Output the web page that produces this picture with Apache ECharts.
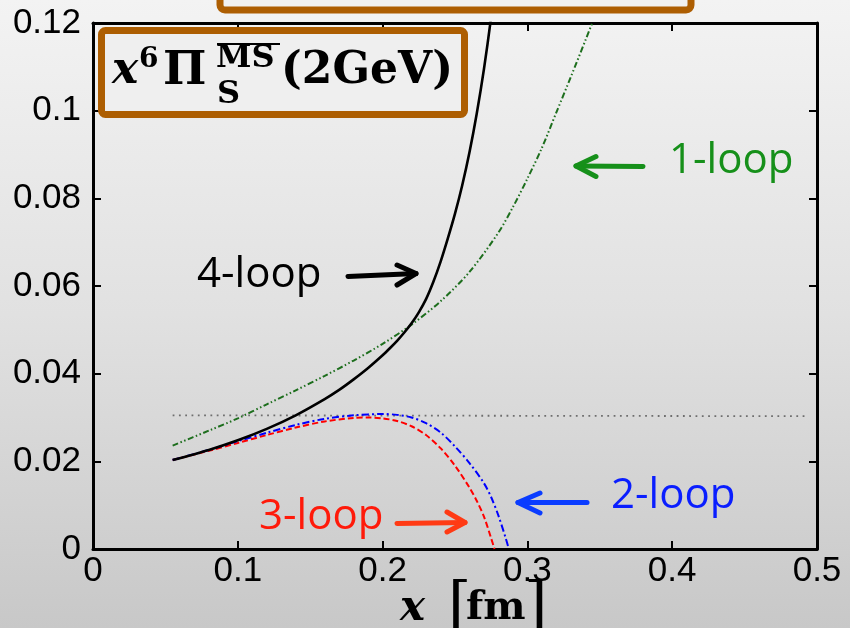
<!DOCTYPE html>
<html>
<head>
<meta charset="utf-8">
<script src="https://cdn.jsdelivr.net/npm/echarts@6/dist/echarts.min.js"></script>
<style>
  html, body { margin: 0; padding: 0; }
  #chart { width: 850px; height: 628px; }
</style>
</head>
<body>
<div id="chart"></div>
<script>
// Axis ranges and tick spacing
const xRange = [0, 0.5];
const xStep = 0.1;
const yRange = [0, 0.12];
const yStep = 0.02;

// Curves: x [fm] and x^6 Pi_S (2 GeV) at each loop order
const x4loop = [0.055, 0.08, 0.10, 0.12, 0.14, 0.16, 0.17, 0.18, 0.19, 0.20, 0.205, 0.21, 0.215, 0.22, 0.225, 0.23, 0.235, 0.24, 0.245, 0.25, 0.255, 0.26, 0.265, 0.27, 0.275, 0.28];
const y4loop = [0.0203, 0.0226, 0.0248, 0.0274, 0.0305, 0.0342, 0.0363, 0.0387, 0.0413, 0.0442, 0.0458, 0.0475, 0.0494, 0.0515, 0.0540, 0.0570, 0.0609, 0.0655, 0.0708, 0.0765, 0.0830, 0.0905, 0.0993, 0.1095, 0.1215, 0.1355];

const x1loop = [0.055, 0.08, 0.10, 0.12, 0.14, 0.16, 0.18, 0.20, 0.22, 0.24, 0.26, 0.28, 0.29, 0.30, 0.31, 0.32, 0.33, 0.34, 0.35];
const y1loop = [0.0236, 0.0270, 0.0298, 0.0330, 0.0362, 0.0395, 0.0430, 0.0468, 0.0512, 0.0565, 0.0632, 0.0722, 0.0780, 0.0845, 0.0915, 0.0996, 0.1077, 0.1160, 0.1243];

const x2loop = [0.055, 0.08, 0.10, 0.12, 0.14, 0.16, 0.18, 0.20, 0.21, 0.22, 0.23, 0.24, 0.25, 0.26, 0.27, 0.275, 0.28, 0.285, 0.2872];
const y2loop = [0.0203, 0.0226, 0.0246, 0.0265, 0.0283, 0.0297, 0.0305, 0.0308, 0.0306, 0.0300, 0.0287, 0.0266, 0.0234, 0.0196, 0.0150, 0.0118, 0.0076, 0.0025, 0.0];

const x3loop = [0.055, 0.08, 0.10, 0.12, 0.14, 0.16, 0.18, 0.19, 0.20, 0.21, 0.22, 0.23, 0.24, 0.25, 0.26, 0.265, 0.27, 0.275, 0.2773];
const y3loop = [0.0203, 0.0224, 0.0242, 0.0260, 0.0277, 0.0291, 0.0299, 0.0300, 0.0298, 0.0292, 0.0280, 0.0260, 0.0230, 0.0190, 0.0140, 0.0110, 0.0074, 0.0024, 0.0];

// Horizontal reference level
const xRef = [0.055, 0.492];
const yRef = [0.0305, 0.0303];

const zip = (xs, ys) => xs.map((x, i) => [x, ys[i]]);

const ORANGE = '#ad5e02';
const SERIF = '"DejaVu Serif", serif';
const SANS = '"Open Sans", sans-serif';

function txt(text, x, y, opts) {
  const o = Object.assign({ size: 42, family: SANS, weight: 'normal', style: 'normal', color: '#000', align: 'left' }, opts || {});
  return {
    type: 'text', x: x, y: y, z: 50,
    style: {
      text: text, fill: o.color,
      font: o.style + ' ' + o.weight + ' ' + o.size + 'px ' + o.family,
      align: o.align, verticalAlign: 'middle',
      textAlign: o.align, textVerticalAlign: 'middle'
    }
  };
}

function arrow(x1, y1, x2, y2, ax, ay1, ay2, color) {
  const st = () => ({ stroke: color, lineWidth: 5, lineCap: 'round', lineJoin: 'round', fill: null });
  return [
    { type: 'polyline', z: 50, shape: { points: [[x1, y1], [x2, y2]] }, style: st() },
    { type: 'polyline', z: 50, shape: { points: [[ax, ay1], [x2, y2], [ax, ay2]] }, style: st() }
  ];
}

const axisLabelStyle = { fontSize: 35, color: '#000', fontFamily: '"Liberation Sans", Arial, sans-serif' };
const axisLineStyle = { show: true, onZero: false, lineStyle: { color: '#000', width: 3 } };
const tickStyle = { show: true, inside: true, length: 8, lineStyle: { color: '#000', width: 2 } };

const curve = (name, xs, ys, color, width, dash) => ({
  name: name, type: 'line', data: zip(xs, ys), smooth: 0.3, showSymbol: false,
  lineStyle: { color: color, width: width, type: dash }
});

const option = {
  animation: false,
  backgroundColor: 'transparent',
  grid: { left: 93, right: 33, top: 23, bottom: 79, containLabel: false },
  xAxis: [
    { type: 'value', position: 'bottom', min: xRange[0], max: xRange[1], interval: xStep,
      axisLine: axisLineStyle, axisTick: tickStyle, splitLine: { show: false },
      axisLabel: Object.assign({ margin: 5, showMinLabel: true, showMaxLabel: true }, axisLabelStyle) },
    { type: 'value', position: 'top', min: xRange[0], max: xRange[1], interval: xStep,
      axisLine: axisLineStyle, axisTick: tickStyle, splitLine: { show: false }, axisLabel: { show: false } }
  ],
  yAxis: [
    { type: 'value', position: 'left', min: yRange[0], max: yRange[1], interval: yStep,
      axisLine: axisLineStyle, axisTick: tickStyle, splitLine: { show: false },
      axisLabel: Object.assign({ margin: 12, showMinLabel: true, showMaxLabel: true }, axisLabelStyle) },
    { type: 'value', position: 'right', min: yRange[0], max: yRange[1], interval: yStep,
      axisLine: axisLineStyle, axisTick: tickStyle, splitLine: { show: false }, axisLabel: { show: false } }
  ],
  series: [
    { name: 'ref', type: 'line', data: zip(xRef, yRef), showSymbol: false, z: 1,
      lineStyle: { color: '#6e6e6e', width: 1.8, type: [1.8, 4.5] } },
    curve('1-loop', x1loop, y1loop, '#1d6e1d', 2, [6, 2.5, 1.5, 2.5, 1.5, 2.5]),
    curve('3-loop', x3loop, y3loop, '#ff0000', 2, [6, 3]),
    curve('2-loop', x2loop, y2loop, '#0000ff', 2, [7, 3, 2, 3]),
    curve('4-loop', x4loop, y4loop, '#000000', 2.6, 'solid')
  ],
  graphic: [
    // page backdrop
    { type: 'rect', z: -100, shape: { x: 0, y: 0, width: 850, height: 628 },
      style: { fill: { type: 'linear', x: 0, y: 0, x2: 0, y2: 1, colorStops: [
        { offset: 0, color: '#f3f3f3' }, { offset: 0.5, color: '#e1e1e1' }, { offset: 1, color: '#c8c8c8' } ] } } },
    // framed box running off the top edge
    { type: 'rect', z: 40, shape: { x: 220, y: -40, width: 471, height: 50, r: 5 },
      style: { fill: '#f1f1f1', stroke: ORANGE, lineWidth: 7 } },
    // quantity box
    { type: 'rect', z: 40, shape: { x: 101.5, y: 30.5, width: 363, height: 84, r: 4 },
      style: { fill: '#efefef', stroke: ORANGE, lineWidth: 7 } },
    txt('x', 112, 72, { size: 44, family: SERIF, weight: 'bold', style: 'italic' }),
    txt('6', 139, 60, { size: 28, family: SERIF, weight: 'bold' }),
    txt('Π', 163, 72, { size: 46, family: SERIF, weight: 'bold' }),
    txt('MS', 216, 59, { size: 32, family: SERIF, weight: 'bold' }),
    { type: 'line', z: 50, shape: { x1: 217, y1: 44, x2: 280, y2: 44 }, style: { stroke: '#000', lineWidth: 2 } },
    txt('S', 217, 95, { size: 32, family: SERIF, weight: 'bold' }),
    txt('(2GeV)', 281, 72, { size: 44, family: SERIF, weight: 'bold' }),
    // axis title
    txt('x', 400, 609, { size: 42, family: SERIF, weight: 'bold', style: 'italic' }),
    txt('[', 448, 608, { size: 60, family: SERIF }),
    txt('fm', 466, 609, { size: 40, family: SERIF, weight: 'bold' }),
    txt(']', 524, 608, { size: 60, family: SERIF }),
    // curve annotations
    txt('4-loop', 197, 275, { color: '#000000' }),
    ...arrow(348, 276.5, 416, 273.5, 397, 265, 285, '#000000'),
    txt('1-loop', 669, 161, { color: '#16901a' }),
    ...arrow(643, 166.5, 576, 166, 596, 156.5, 176.5, '#16901a'),
    txt('2-loop', 611, 496, { color: '#0a1eff' }),
    ...arrow(587, 502.5, 518, 502.5, 540, 493, 513, '#0a3cff'),
    txt('3-loop', 259, 517, { color: '#ff1a0a' }),
    ...arrow(397, 523.5, 465, 522.5, 447, 512, 532, '#ff3a14')
  ]
};

const chart = echarts.init(document.getElementById('chart'), null, { renderer: 'canvas' });
chart.setOption(option);
</script>
</body>
</html>
